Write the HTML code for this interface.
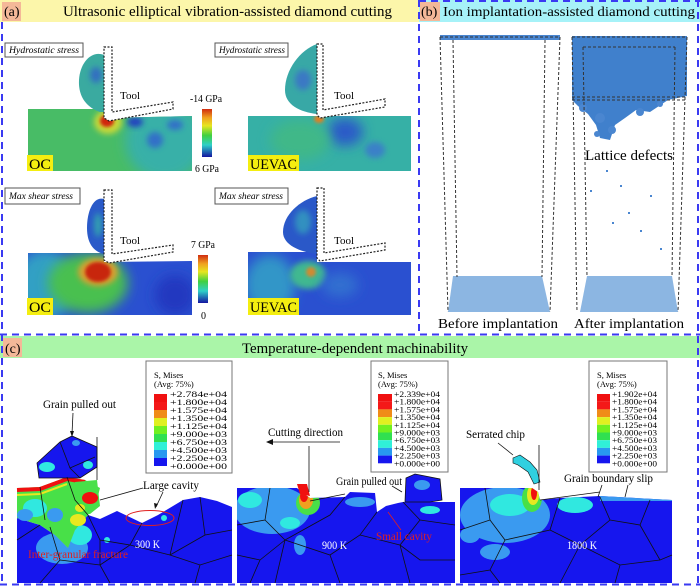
<!DOCTYPE html>
<html><head><meta charset="utf-8"><style>
html,body{margin:0;padding:0;background:#fff;width:700px;height:586px;overflow:hidden}
svg{display:block}
text{font-family:"Liberation Serif","DejaVu Serif",serif}
</style></head><body>
<svg width="700" height="586" viewBox="0 0 700 586" xmlns="http://www.w3.org/2000/svg">
<defs>
 <filter id="b1" x="-50%" y="-50%" width="200%" height="200%"><feGaussianBlur stdDeviation="1.5"/></filter>
 <filter id="b3" x="-50%" y="-50%" width="200%" height="200%"><feGaussianBlur stdDeviation="3"/></filter>
 <filter id="b6" x="-50%" y="-50%" width="200%" height="200%"><feGaussianBlur stdDeviation="6"/></filter>
 <linearGradient id="cb" x1="0" y1="0" x2="0" y2="1">
   <stop offset="0" stop-color="#d02c10"/>
   <stop offset="0.18" stop-color="#f0a020"/>
   <stop offset="0.35" stop-color="#e6e620"/>
   <stop offset="0.55" stop-color="#40d040"/>
   <stop offset="0.75" stop-color="#30d0c8"/>
   <stop offset="1" stop-color="#1414a0"/>
 </linearGradient>
 <clipPath id="wp1"><path d="M28,109 L104,109 L104,118 L192,116 L192,171 L28,171 Z"/></clipPath>
 <clipPath id="wp2"><path d="M248,116 L411,116 L411,171 L248,171 Z"/></clipPath>
 <clipPath id="wp3"><path d="M28,253 L104,253 L104,262 L192,261 L192,315 L28,315 Z"/></clipPath>
 <clipPath id="wp4"><path d="M248,252 L317,252 L317,262 L411,262 L411,315 L248,315 Z"/></clipPath>
 <clipPath id="cm1"><path d="M17,583 L17,518 L40,525 L55,535 L68,548 L75,530 L88,515 L100,519 L117,511 L142,523 L158,515 L183,500 L200,497 L217,501 L232,507 L232,583 Z"/></clipPath>
 <clipPath id="cm2"><path d="M237,488 L297,488 L303,493 L310,498 L345,497 L350,492 L375,493 L377,512 L386,506 L398,503 L403,502 L455,502 L455,583 L237,583 Z"/></clipPath>
 <clipPath id="cm3"><path d="M460,488 L532,488 L538,492 L540,500 L560,498 L600,496 L672,500 L672,583 L460,583 Z"/></clipPath>
</defs>

<!-- headers -->
<rect x="0" y="0" width="419" height="22" fill="#fcf6aa"/>
<rect x="419" y="0" width="281" height="22" fill="#a6f2f8"/>
<rect x="0" y="336" width="700" height="22" fill="#aaf5a8"/>
<rect x="2" y="2" width="19" height="19" fill="#f4b898"/>
<rect x="420" y="2" width="20" height="19" fill="#f4b898"/>
<rect x="3" y="338" width="19" height="19" fill="#f4b898"/>
<text x="4" y="16" font-size="14">(a)</text>
<text x="63" y="16" font-size="15" textLength="329" lengthAdjust="spacingAndGlyphs">Ultrasonic elliptical vibration-assisted diamond cutting</text>
<text x="421" y="16" font-size="14">(b)</text>
<text x="443" y="16" font-size="14" textLength="252" lengthAdjust="spacingAndGlyphs">Ion implantation-assisted diamond cutting</text>
<text x="5" y="353" font-size="14">(c)</text>
<text x="242" y="353" font-size="15" textLength="226" lengthAdjust="spacingAndGlyphs">Temperature-dependent machinability</text>

<!-- ============ PANEL A ============ -->
<!-- top-left hydrostatic OC -->
<g clip-path="url(#wp1)">
  <rect x="28" y="105" width="170" height="70" fill="#48bc66"/>
  <ellipse cx="165" cy="140" rx="40" ry="40" fill="#38b0a8" filter="url(#b6)"/>
  <ellipse cx="135" cy="122" rx="8" ry="5" fill="#2040c0" filter="url(#b3)"/>
  <ellipse cx="155" cy="140" rx="8" ry="8" fill="#3070c8" filter="url(#b3)"/>
  <ellipse cx="175" cy="125" rx="8" ry="5" fill="#3070c8" filter="url(#b3)"/>
  <ellipse cx="108" cy="122" rx="14" ry="12" fill="#c8d838" filter="url(#b3)"/>
  <ellipse cx="107" cy="121" rx="7" ry="6" fill="#d02810" filter="url(#b1)"/>
</g>
<path d="M104,55 C92,50 80,62 79,80 C78,98 88,108 100,112 L104,112 Z" fill="#3aaaa0"/>
<ellipse cx="96" cy="75" rx="6" ry="8" fill="#3070c0" filter="url(#b3)"/>
<!-- top-right hydrostatic UEVAC -->
<g clip-path="url(#wp2)">
  <rect x="248" y="116" width="163" height="55" fill="#36b0a6"/>
  <ellipse cx="345" cy="132" rx="18" ry="14" fill="#2a5cc8" filter="url(#b6)"/>
  <ellipse cx="375" cy="150" rx="10" ry="8" fill="#3a80c8" filter="url(#b3)"/>
  <ellipse cx="300" cy="140" rx="30" ry="20" fill="#40b888" filter="url(#b6)"/>
  <ellipse cx="319" cy="119" rx="5" ry="4" fill="#e08020" filter="url(#b1)"/>
</g>
<path d="M317,44 C300,50 285,70 285,90 C285,105 300,112 317,114 Z" fill="#38a8a6"/>
<ellipse cx="303" cy="80" rx="8" ry="10" fill="#3a78c4" filter="url(#b3)"/>
<!-- bottom-left max shear OC -->
<g clip-path="url(#wp3)">
  <rect x="28" y="250" width="170" height="70" fill="#2a50d0"/>
  <ellipse cx="45" cy="285" rx="30" ry="35" fill="#30a0c4" filter="url(#b6)"/>
  <ellipse cx="88" cy="283" rx="40" ry="30" fill="#48c050" filter="url(#b6)"/>
  <ellipse cx="98" cy="272" rx="20" ry="14" fill="#d8a030" filter="url(#b3)"/>
  <ellipse cx="98" cy="272" rx="13" ry="10" fill="#c82810" filter="url(#b1)"/>
  <ellipse cx="175" cy="295" rx="20" ry="20" fill="#2038c0" filter="url(#b6)"/>
</g>
<path d="M104,199 C94,196 87,210 87,228 C87,245 95,252 104,254 Z" fill="#2a5ac8"/>
<ellipse cx="98" cy="225" rx="4" ry="12" fill="#30a0b0" filter="url(#b3)"/>
<!-- bottom-right max shear UEVAC -->
<g clip-path="url(#wp4)">
  <rect x="248" y="250" width="163" height="70" fill="#2a50d0"/>
  <ellipse cx="270" cy="285" rx="25" ry="30" fill="#3096c8" filter="url(#b6)"/>
  <ellipse cx="308" cy="275" rx="18" ry="14" fill="#40b890" filter="url(#b3)"/>
  <ellipse cx="311" cy="272" rx="5" ry="5" fill="#d08a30" filter="url(#b1)"/>
  <ellipse cx="340" cy="285" rx="18" ry="12" fill="#3070d0" filter="url(#b6)"/>
</g>
<path d="M317,196 C300,200 283,215 283,232 C283,245 300,252 317,254 Z" fill="#2a58c8"/>
<ellipse cx="303" cy="222" rx="8" ry="12" fill="#3090c0" filter="url(#b3)"/>

<!-- tools -->
<g fill="#fff" stroke="#222" stroke-width="1.2" stroke-dasharray="2,1.5">
  <path d="M104,47 L112,47 L112,112 L173,102 L173,109 L109,121 L104,118 Z"/>
  <path d="M317,44 L323,44 L323,110 L385,99 L385,107 L320,118 L317,115 Z"/>
  <path d="M104,190 L112,190 L112,254 L173,245 L173,252 L109,263 L104,260 Z"/>
  <path d="M317,188 L324,188 L324,253 L385,243 L385,250 L320,261 L317,258 Z"/>
</g>
<g font-size="11">
  <text x="120" y="99">Tool</text><text x="334" y="99">Tool</text>
  <text x="120" y="244">Tool</text><text x="334" y="244">Tool</text>
</g>
<!-- stress label boxes -->
<g fill="#fff" stroke="#555" stroke-width="1">
  <rect x="5" y="43" width="78" height="14"/>
  <rect x="215" y="43" width="73" height="14"/>
  <rect x="5" y="188" width="75" height="16"/>
  <rect x="215" y="188" width="73" height="16"/>
</g>
<g font-size="9" font-style="italic">
  <text x="9" y="53" textLength="70" lengthAdjust="spacingAndGlyphs">Hydrostatic stress</text>
  <text x="219" y="53" textLength="66" lengthAdjust="spacingAndGlyphs">Hydrostatic stress</text>
  <text x="9" y="199" textLength="64" lengthAdjust="spacingAndGlyphs">Max shear stress</text>
  <text x="219" y="199" textLength="64" lengthAdjust="spacingAndGlyphs">Max shear stress</text>
</g>
<!-- colorbars -->
<rect x="202" y="109" width="10" height="48" fill="url(#cb)"/>
<rect x="198" y="255" width="10" height="48" fill="url(#cb)"/>
<text x="190" y="102" font-size="10" textLength="32" lengthAdjust="spacingAndGlyphs">-14 GPa</text>
<text x="195" y="172" font-size="10" textLength="24" lengthAdjust="spacingAndGlyphs">6 GPa</text>
<text x="191" y="248" font-size="10" textLength="24" lengthAdjust="spacingAndGlyphs">7 GPa</text>
<text x="201" y="319" font-size="10">0</text>
<!-- OC / UEVAC -->
<rect x="27" y="155" width="26" height="16" fill="#f4ee10"/>
<rect x="248" y="155" width="51" height="16" fill="#f4ee10"/>
<rect x="27" y="298" width="26" height="17" fill="#f4ee10"/>
<rect x="248" y="298" width="51" height="17" fill="#f4ee10"/>
<g font-size="15">
  <text x="29" y="169" textLength="22" lengthAdjust="spacingAndGlyphs">OC</text>
  <text x="250" y="169" textLength="47" lengthAdjust="spacingAndGlyphs">UEVAC</text>
  <text x="29" y="312" textLength="22" lengthAdjust="spacingAndGlyphs">OC</text>
  <text x="250" y="312" textLength="47" lengthAdjust="spacingAndGlyphs">UEVAC</text>
</g>

<!-- ============ PANEL B ============ -->
<rect x="440" y="35" width="120" height="5" fill="#4a86d0"/>
<path d="M453,276 L542,276 L550,312 L448,312 Z" fill="#8cb6e2"/>
<path d="M587,276 L672,276 L678,312 L580,312 Z" fill="#8cb6e2"/>
<path d="M572,36 L687,36 L687,96 L668,100 L650,112 L636,110 L625,118 L615,125 L610,140 L600,138 L596,125 L588,114 L578,106 L572,100 Z" fill="#4080cc"/>
<g fill="#4a86d0">
  <circle cx="600" cy="118" r="5"/><circle cx="612" cy="130" r="4"/><circle cx="640" cy="112" r="4"/>
  <circle cx="597" cy="134" r="3"/><circle cx="583" cy="108" r="4"/><circle cx="660" cy="104" r="3"/>
  <rect x="606" y="170" width="2" height="2"/><rect x="620" y="185" width="2" height="2"/>
  <rect x="650" y="195" width="2" height="2"/><rect x="640" y="230" width="2" height="2"/>
  <rect x="660" y="248" width="2" height="2"/><rect x="628" y="212" width="2" height="2"/>
  <rect x="590" y="190" width="2" height="2"/><rect x="612" y="222" width="2" height="2"/>
</g>
<g fill="none" stroke="#333" stroke-width="1" stroke-dasharray="3,2">
  <path d="M440,37 L448,312 M453,40 L457,277 M560,37 L550,312 M545,40 L542,277 M440,37 L560,37"/>
  <path d="M572,37 L687,37 M572,37 L577,312 M583,47 L587,277 M687,37 L678,312 M675,47 L672,277 M572,97 L687,97 M572,100 L687,100 M583,47 L675,47"/>
</g>
<text x="585" y="160" font-size="15" textLength="88" lengthAdjust="spacingAndGlyphs">Lattice defects</text>
<text x="438" y="328" font-size="14" textLength="120" lengthAdjust="spacingAndGlyphs">Before implantation</text>
<text x="574" y="328" font-size="14" textLength="110" lengthAdjust="spacingAndGlyphs">After implantation</text>

<!-- ============ PANEL C ============ -->
<!-- left image 300K -->
<g clip-path="url(#cm1)">
  <rect x="17" y="490" width="216" height="95" fill="#1616ee"/>
  <ellipse cx="62" cy="548" rx="26" ry="16" fill="#3a9af0"/>
  <ellipse cx="80" cy="535" rx="12" ry="10" fill="#30e8e0"/>
  <circle cx="107" cy="540" r="3" fill="#30e8e0"/>
  <circle cx="164" cy="518" r="3" fill="#30e8e0"/>
</g>
<path d="M17,488 L40,487 L67,477 L85,480 L100,488 L97,500 L88,515 L75,530 L68,548 L55,535 L40,525 L17,518 Z" fill="#48e048"/>
<ellipse cx="35" cy="508" rx="12" ry="9" fill="#30e8e0"/>
<ellipse cx="25" cy="515" rx="8" ry="6" fill="#3a9af0"/>
<ellipse cx="55" cy="515" rx="8" ry="7" fill="#3a9af0"/>
<ellipse cx="78" cy="520" rx="8" ry="6" fill="#e8e820"/>
<polyline points="17,490 40,489 67,479 85,482" fill="none" stroke="#f01010" stroke-width="4"/>
<polyline points="17,495 40,494 67,484" fill="none" stroke="#e8e820" stroke-width="2"/>
<path d="M37,463 L60,442 L72,436 L97,447 L97,467 L80,478 L39,478 Z" fill="#1616ee"/>
<ellipse cx="47" cy="467" rx="8" ry="5" fill="#30e8e0"/>
<ellipse cx="76" cy="443" rx="4" ry="3" fill="#3a9af0"/>
<ellipse cx="88" cy="465" rx="5" ry="4" fill="#30e8e0"/>
<path d="M75,482 L97,480 L100,506 L90,514 L74,513 Z" fill="#48e048"/>
<ellipse cx="90" cy="498" rx="8" ry="6" fill="#f01010"/>
<ellipse cx="80" cy="508" rx="5" ry="4" fill="#e8e820"/>
<g fill="none" stroke="#111" stroke-width="0.8">
  <path d="M37,463 L60,442 L72,436 L97,447 L97,467 L80,478 L39,478 Z M60,442 L70,468 L80,478 M70,468 L95,457"/>
  <path d="M40,487 L45,520 M67,477 L75,500 L88,515 M17,540 L40,525"/>
  <path d="M50,527 L60,560 L40,583 M60,560 L100,565 L110,583 M100,565 L130,545 L142,523 M130,545 L170,555 L183,500 M170,555 L200,565 L232,555 M200,565 L195,583 M200,497 L205,535 L232,530 M205,535 L170,555 M88,515 L100,540 L130,545 M100,540 L100,565"/>
  <path d="M97,437 L97,480 M100,500 L143,488 M163,492 L156,507"/>
</g>
<ellipse cx="150" cy="518" rx="24" ry="7.5" fill="none" stroke="#e02020" stroke-width="1"/>
<!-- middle image 900K -->
<g clip-path="url(#cm2)">
  <rect x="237" y="486" width="220" height="100" fill="#1616ee"/>
  <ellipse cx="272" cy="510" rx="38" ry="24" fill="#3a9af0"/>
  <ellipse cx="250" cy="500" rx="12" ry="8" fill="#30e8e0"/>
  <ellipse cx="290" cy="523" rx="10" ry="6" fill="#30e8e0"/>
  <ellipse cx="300" cy="545" rx="6" ry="10" fill="#3a9af0"/>
  <ellipse cx="308" cy="503" rx="12" ry="12" fill="#48e048"/>
  <ellipse cx="306" cy="500" rx="7" ry="9" fill="#f0a020"/>
  <ellipse cx="304" cy="496" rx="4" ry="6" fill="#f01010"/>
  <ellipse cx="360" cy="502" rx="15" ry="5" fill="#3a9af0"/>
  <ellipse cx="430" cy="510" rx="10" ry="4" fill="#30e8e0"/>
</g>
<path d="M297,484 L307,484 L310,496 L300,494 Z" fill="#f01010"/>
<path d="M406,478 L415,474 L440,479 L442,500 L430,502 L405,502 Z" fill="#1616ee"/>
<ellipse cx="422" cy="485" rx="8" ry="5" fill="#3a9af0"/>
<g fill="none" stroke="#111" stroke-width="0.8">
  <path d="M406,478 L415,474 L440,479 L442,500 L430,502 L405,502 Z"/>
  <path d="M270,488 L265,520 L237,525 M265,520 L285,540 L330,515 L345,497 M285,540 L275,583 M285,540 L330,555 L360,535 L377,512 M330,555 L340,583 M360,535 L400,545 L420,520 L403,502 M400,545 L410,583 M420,520 L455,525 M237,555 L260,560 L285,540 M260,560 L250,583 M400,545 L420,560 L455,560"/>
  <path d="M309,446 L309,492 M310,501 L345,494 M340,442 L270,442 M402,492 L392,486"/>
</g>
<path d="M266,442 L273,439 L273,445 Z" fill="#111"/>
<line x1="401" y1="530" x2="388" y2="512" stroke="#e02020" stroke-width="0.8"/>
<!-- right image 1800K -->
<g clip-path="url(#cm3)">
  <rect x="460" y="486" width="214" height="100" fill="#1616ee"/>
  <ellipse cx="505" cy="515" rx="45" ry="28" fill="#3a9af0"/>
  <ellipse cx="510" cy="505" rx="20" ry="11" fill="#30e8e0"/>
  <ellipse cx="495" cy="552" rx="15" ry="8" fill="#3a9af0"/>
  <ellipse cx="470" cy="535" rx="10" ry="8" fill="#3a9af0"/>
  <ellipse cx="532" cy="498" rx="10" ry="14" fill="#48e048"/>
  <ellipse cx="533" cy="495" rx="6" ry="10" fill="#e8e820"/>
  <ellipse cx="534" cy="493" rx="3" ry="7" fill="#f01010"/>
  <ellipse cx="575" cy="505" rx="18" ry="8" fill="#30e8e0"/>
  <rect x="600" y="496" width="72" height="5" fill="#3a9af0"/>
</g>
<path d="M513,458 L520,455 L530,462 L537,470 L540,482 L534,484 L528,472 L518,465 L513,463 Z" fill="#30d0e0" stroke="#111" stroke-width="0.6"/>
<g fill="none" stroke="#111" stroke-width="0.8">
  <path d="M485,488 L490,520 L460,530 M490,520 L505,540 L550,530 L560,498 M505,540 L490,570 L460,575 M490,570 L500,583 M550,530 L580,545 L610,520 L600,497 M580,545 L560,583 M610,520 L640,525 L650,500 M640,525 L660,560 L672,555 M580,545 L620,565 L660,560 M620,565 L615,583"/>
  <path d="M539,445 L539,490 M540,500 L600,492 M498,443 L513,455 M602,485 L598,497 M628,485 L625,497"/>
</g>
<!-- legends -->
<g font-size="8.5">
  <rect x="146" y="361" width="86" height="112" fill="#fff" stroke="#777"/>
  <text x="154" y="378">S, Mises</text><text x="154" y="387">(Avg: 75%)</text>
  <rect x="371" y="361" width="77" height="111" fill="#fff" stroke="#777"/>
  <text x="378" y="378">S, Mises</text><text x="378" y="387">(Avg: 75%)</text>
  <rect x="589" y="361" width="78" height="111" fill="#fff" stroke="#777"/>
  <text x="597" y="378">S, Mises</text><text x="597" y="387">(Avg: 75%)</text>
</g>
<g>
  <rect x="154" y="394" width="13" height="8" fill="#f01010"/><rect x="154" y="402" width="13" height="8" fill="#f41818"/>
  <rect x="154" y="410" width="13" height="8" fill="#f08c18"/><rect x="154" y="418" width="13" height="8" fill="#e0f020"/>
  <rect x="154" y="426" width="13" height="8" fill="#70f020"/><rect x="154" y="434" width="13" height="8" fill="#30e050"/>
  <rect x="154" y="442" width="13" height="8" fill="#30f0d8"/><rect x="154" y="450" width="13" height="8" fill="#2898f0"/>
  <rect x="154" y="458" width="13" height="8" fill="#1616ee"/>
  <rect x="378" y="394" width="14" height="7.7" fill="#f01010"/><rect x="378" y="401.7" width="14" height="7.7" fill="#f41818"/>
  <rect x="378" y="409.4" width="14" height="7.7" fill="#f08c18"/><rect x="378" y="417.1" width="14" height="7.7" fill="#e0f020"/>
  <rect x="378" y="424.8" width="14" height="7.7" fill="#70f020"/><rect x="378" y="432.5" width="14" height="7.7" fill="#30e050"/>
  <rect x="378" y="440.2" width="14" height="7.7" fill="#30f0d8"/><rect x="378" y="447.9" width="14" height="7.7" fill="#2898f0"/>
  <rect x="378" y="455.6" width="14" height="7.7" fill="#1616ee"/>
  <rect x="597" y="394" width="13" height="7.7" fill="#f01010"/><rect x="597" y="401.7" width="13" height="7.7" fill="#f41818"/>
  <rect x="597" y="409.4" width="13" height="7.7" fill="#f08c18"/><rect x="597" y="417.1" width="13" height="7.7" fill="#e0f020"/>
  <rect x="597" y="424.8" width="13" height="7.7" fill="#70f020"/><rect x="597" y="432.5" width="13" height="7.7" fill="#30e050"/>
  <rect x="597" y="440.2" width="13" height="7.7" fill="#30f0d8"/><rect x="597" y="447.9" width="13" height="7.7" fill="#2898f0"/>
  <rect x="597" y="455.6" width="13" height="7.7" fill="#1616ee"/>
</g>
<g font-size="8.5" lengthAdjust="spacingAndGlyphs">
  <text x="170" y="397" textLength="57" lengthAdjust="spacingAndGlyphs">+2.784e+04</text>
  <text x="170" y="405" textLength="57" lengthAdjust="spacingAndGlyphs">+1.800e+04</text>
  <text x="170" y="413" textLength="57" lengthAdjust="spacingAndGlyphs">+1.575e+04</text>
  <text x="170" y="421" textLength="57" lengthAdjust="spacingAndGlyphs">+1.350e+04</text>
  <text x="170" y="429" textLength="57" lengthAdjust="spacingAndGlyphs">+1.125e+04</text>
  <text x="170" y="437" textLength="57" lengthAdjust="spacingAndGlyphs">+9.000e+03</text>
  <text x="170" y="445" textLength="57" lengthAdjust="spacingAndGlyphs">+6.750e+03</text>
  <text x="170" y="453" textLength="57" lengthAdjust="spacingAndGlyphs">+4.500e+03</text>
  <text x="170" y="461" textLength="57" lengthAdjust="spacingAndGlyphs">+2.250e+03</text>
  <text x="170" y="469" textLength="57" lengthAdjust="spacingAndGlyphs">+0.000e+00</text>

  <text x="394" y="397" textLength="46" lengthAdjust="spacingAndGlyphs">+2.339e+04</text>
  <text x="394" y="404.7" textLength="46" lengthAdjust="spacingAndGlyphs">+1.800e+04</text>
  <text x="394" y="412.4" textLength="46" lengthAdjust="spacingAndGlyphs">+1.575e+04</text>
  <text x="394" y="420.1" textLength="46" lengthAdjust="spacingAndGlyphs">+1.350e+04</text>
  <text x="394" y="427.8" textLength="46" lengthAdjust="spacingAndGlyphs">+1.125e+04</text>
  <text x="394" y="435.5" textLength="46" lengthAdjust="spacingAndGlyphs">+9.000e+03</text>
  <text x="394" y="443.2" textLength="46" lengthAdjust="spacingAndGlyphs">+6.750e+03</text>
  <text x="394" y="450.9" textLength="46" lengthAdjust="spacingAndGlyphs">+4.500e+03</text>
  <text x="394" y="458.6" textLength="46" lengthAdjust="spacingAndGlyphs">+2.250e+03</text>
  <text x="394" y="466.3" textLength="46" lengthAdjust="spacingAndGlyphs">+0.000e+00</text>

  <text x="612" y="397" textLength="45" lengthAdjust="spacingAndGlyphs">+1.902e+04</text>
  <text x="612" y="404.7" textLength="45" lengthAdjust="spacingAndGlyphs">+1.800e+04</text>
  <text x="612" y="412.4" textLength="45" lengthAdjust="spacingAndGlyphs">+1.575e+04</text>
  <text x="612" y="420.1" textLength="45" lengthAdjust="spacingAndGlyphs">+1.350e+04</text>
  <text x="612" y="427.8" textLength="45" lengthAdjust="spacingAndGlyphs">+1.125e+04</text>
  <text x="612" y="435.5" textLength="45" lengthAdjust="spacingAndGlyphs">+9.000e+03</text>
  <text x="612" y="443.2" textLength="45" lengthAdjust="spacingAndGlyphs">+6.750e+03</text>
  <text x="612" y="450.9" textLength="45" lengthAdjust="spacingAndGlyphs">+4.500e+03</text>
  <text x="612" y="458.6" textLength="45" lengthAdjust="spacingAndGlyphs">+2.250e+03</text>
  <text x="612" y="466.3" textLength="45" lengthAdjust="spacingAndGlyphs">+0.000e+00</text>
</g>
<!-- annotations -->
<g font-size="11.5">
  <text x="43" y="408" textLength="73" lengthAdjust="spacingAndGlyphs">Grain pulled out</text>
  <text x="143" y="489" textLength="56" lengthAdjust="spacingAndGlyphs">Large cavity</text>
  <text x="268" y="436" textLength="75" lengthAdjust="spacingAndGlyphs">Cutting direction</text>
  <text x="336" y="485" textLength="66" lengthAdjust="spacingAndGlyphs">Grain pulled out</text>
  <text x="466" y="438" textLength="59" lengthAdjust="spacingAndGlyphs">Serrated chip</text>
  <text x="564" y="482" textLength="89" lengthAdjust="spacingAndGlyphs">Grain boundary slip</text>
  <text x="28" y="558" fill="#e02020" textLength="100" lengthAdjust="spacingAndGlyphs">Inter-granular fracture</text>
  <text x="376" y="540" fill="#e02020" textLength="56" lengthAdjust="spacingAndGlyphs">Small cavity</text>
  <text x="135" y="548" fill="#fff" textLength="25" lengthAdjust="spacingAndGlyphs">300 K</text>
  <text x="322" y="549" fill="#fff" textLength="25" lengthAdjust="spacingAndGlyphs">900 K</text>
  <text x="567" y="549" fill="#fff" textLength="30" lengthAdjust="spacingAndGlyphs">1800 K</text>
</g>
<line x1="73" y1="413" x2="72" y2="434" stroke="#111" stroke-width="0.8"/>
<path d="M72,437 L70,431 L74,431 Z" fill="#111"/>
<path d="M155,509 L154,503 L158,504 Z" fill="#111"/>

<!-- dashed borders -->
<g fill="none" stroke="#3a3af2" stroke-width="2" stroke-dasharray="7,5">
  <line x1="2" y1="22" x2="2" y2="584"/>
  <line x1="698" y1="0" x2="698" y2="584"/>
  <line x1="419" y1="0" x2="419" y2="334"/>
  <line x1="0" y1="334.5" x2="700" y2="334.5"/>
  <line x1="0" y1="584.5" x2="700" y2="584.5"/>
  <line x1="419" y1="1" x2="700" y2="1"/>
</g>
</svg>
</body></html>
